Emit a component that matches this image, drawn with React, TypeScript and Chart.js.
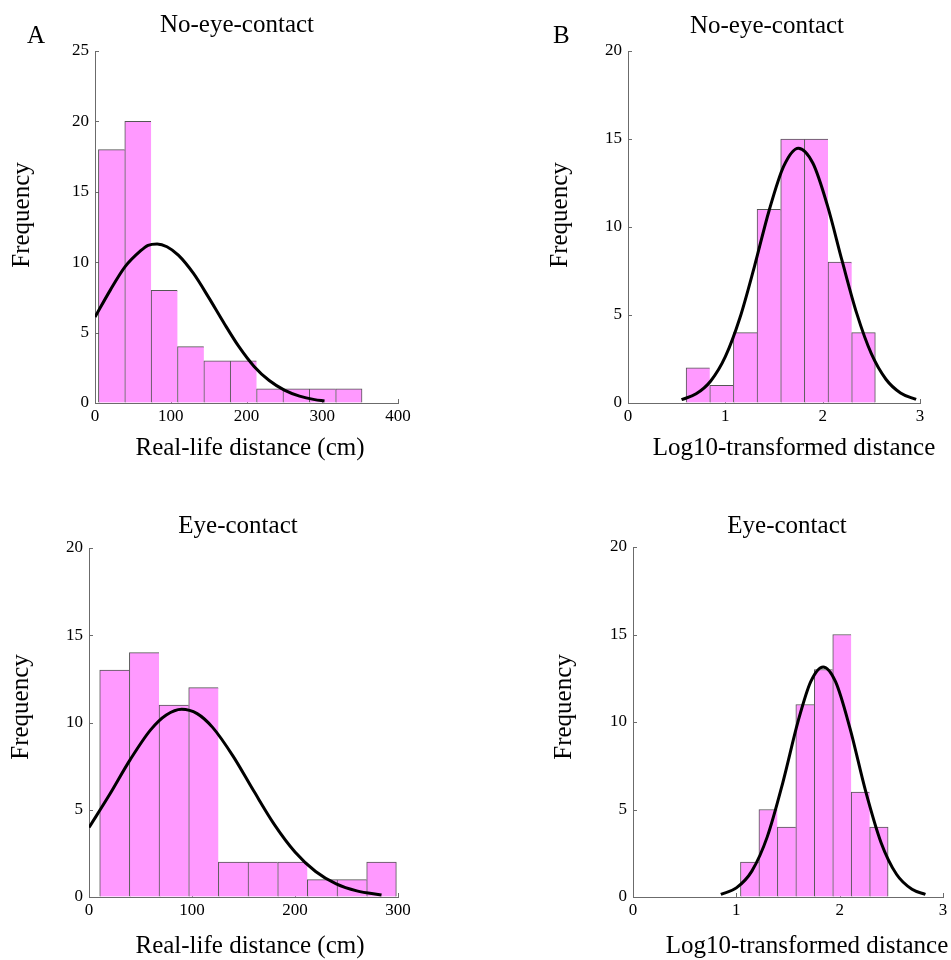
import React, { useEffect, useRef } from "react";
import { Chart, registerables } from "chart.js";
Chart.register(...registerables);

// ---------------- Data ----------------
// Panel A, No-eye-contact: real-life distance (cm)
const aNoBinCenters = [21.9, 56.7, 91.5, 126.3, 161.1, 195.9, 230.7, 265.5, 300.3, 335.1];
const aNoCounts = [18, 20, 8, 4, 3, 3, 1, 1, 1, 1];
const aNoFitX = [0, 20, 40, 60, 70, 82, 95, 110, 130, 150, 170, 190, 210, 230, 250, 270, 290, 303];
const aNoFitY = [6.1, 8.0, 9.7, 10.8, 11.2, 11.3, 11.1, 10.5, 9.2, 7.5, 5.7, 4.0, 2.6, 1.6, 0.92, 0.49, 0.24, 0.15];

// Panel B, No-eye-contact: log10-transformed distance
const bNoBinCenters = [0.7185, 0.9615, 1.2045, 1.4475, 1.6905, 1.9335, 2.1765, 2.4195];
const bNoCounts = [2, 1, 4, 11, 15, 15, 8, 4];
const bNoFitX = [0.55, 0.7, 0.85, 1.0, 1.15, 1.3, 1.45, 1.6, 1.75, 1.9, 2.05, 2.2, 2.35, 2.5, 2.65, 2.8, 2.96];
const bNoFitY = [0.19, 0.52, 1.25, 2.63, 4.84, 7.78, 10.94, 13.46, 14.48, 13.62, 11.2, 8.07, 5.09, 2.8, 1.35, 0.57, 0.2];

// Panel A, Eye-contact: real-life distance (cm)
const aEyeBinCenters = [24.8, 53.6, 82.4, 111.2, 140.0, 168.8, 197.6, 226.4, 255.2, 284.0];
const aEyeCounts = [13, 14, 11, 12, 2, 2, 2, 1, 1, 2];
const aEyeFitX = [0, 20, 40, 60, 75, 90, 105, 120, 140, 160, 180, 200, 220, 240, 260, 284];
const aEyeFitY = [3.98, 5.87, 7.87, 9.59, 10.43, 10.76, 10.51, 9.72, 8.06, 6.07, 4.15, 2.58, 1.46, 0.75, 0.35, 0.12];

// Panel B, Eye-contact: log10-transformed distance
const bEyeBinCenters = [1.1293, 1.3079, 1.4865, 1.6651, 1.8437, 2.0223, 2.2009, 2.3795];
const bEyeCounts = [2, 5, 4, 11, 13, 15, 6, 4];
const bEyeFitX = [0.85, 1.0, 1.15, 1.3, 1.45, 1.6, 1.72, 1.84, 1.96, 2.1, 2.25, 2.4, 2.55, 2.7, 2.83];
const bEyeFitY = [0.15, 0.52, 1.48, 3.45, 6.54, 10.09, 12.31, 13.15, 12.31, 9.64, 6.08, 3.12, 1.3, 0.44, 0.15];

// Texts
const titleNo = "No-eye-contact";
const titleEye = "Eye-contact";
const xLabelReal = "Real-life distance (cm)";
const xLabelLog = "Log10-transformed distance";
const yLabel = "Frequency";

// ---------------- Styles ----------------
const FONT = '"Liberation Serif", "Times New Roman", serif';
const BAR_FILL = "#ff99ff";
const BAR_EDGE = "#555555";
const AXIS_COLOR = "#6b6b6b";
const LABEL_SIZE = 25;

type TextItem = { text: string; x: number; y: number; align?: CanvasTextAlign; rotate?: boolean; size?: number };

type Panel = {
  x: number; y: number; w: number; h: number;
  area: { l: number; r: number; t: number; b: number };
  xMax: number; xStep: number; yMax: number;
  centers: number[]; counts: number[]; fitX: number[]; fitY: number[];
  texts: TextItem[];
};

const PANELS: Panel[] = [
  {
    x: 0, y: 0, w: 470, h: 475,
    area: { l: 95, r: 398, t: 51, b: 403 },
    xMax: 400, xStep: 100, yMax: 25,
    centers: aNoBinCenters, counts: aNoCounts, fitX: aNoFitX, fitY: aNoFitY,
    texts: [
      { text: "A", x: 27, y: 43, align: "left" },
      { text: titleNo, x: 237, y: 32 },
      { text: xLabelReal, x: 250, y: 455 },
      { text: yLabel, x: 29, y: 215, rotate: true },
    ],
  },
  {
    x: 475, y: 0, w: 476, h: 475,
    area: { l: 628, r: 920, t: 51, b: 403 },
    xMax: 3, xStep: 1, yMax: 20,
    centers: bNoBinCenters, counts: bNoCounts, fitX: bNoFitX, fitY: bNoFitY,
    texts: [
      { text: "B", x: 553, y: 43, align: "left" },
      { text: titleNo, x: 767, y: 33 },
      { text: xLabelLog, x: 794, y: 455 },
      { text: yLabel, x: 567, y: 215, rotate: true },
    ],
  },
  {
    x: 0, y: 475, w: 470, h: 485,
    area: { l: 89, r: 398, t: 548, b: 897 },
    xMax: 300, xStep: 100, yMax: 20,
    centers: aEyeBinCenters, counts: aEyeCounts, fitX: aEyeFitX, fitY: aEyeFitY,
    texts: [
      { text: titleEye, x: 238, y: 533 },
      { text: xLabelReal, x: 250, y: 953 },
      { text: yLabel, x: 28, y: 707, rotate: true },
    ],
  },
  {
    x: 475, y: 475, w: 476, h: 485,
    area: { l: 633, r: 943, t: 547, b: 897 },
    xMax: 3, xStep: 1, yMax: 20,
    centers: bEyeBinCenters, counts: bEyeCounts, fitX: bEyeFitX, fitY: bEyeFitY,
    texts: [
      { text: titleEye, x: 787, y: 533 },
      { text: xLabelLog, x: 807, y: 953 },
      { text: yLabel, x: 571, y: 707, rotate: true },
    ],
  },
];

function makeTextPlugin(items: TextItem[], offX: number, offY: number) {
  return {
    id: "panelText",
    afterDraw(chart: any) {
      const ctx = chart.ctx as CanvasRenderingContext2D;
      for (const it of items) {
        ctx.save();
        ctx.font = `${it.size || LABEL_SIZE}px ${FONT}`;
        ctx.fillStyle = "#000";
        ctx.textAlign = it.align || "center";
        ctx.textBaseline = "alphabetic";
        ctx.translate(it.x - offX, it.y - offY);
        if (it.rotate) ctx.rotate(-Math.PI / 2);
        ctx.fillText(it.text, 0, 0);
        ctx.restore();
      }
    },
  };
}

const inwardTicks = {
  id: "inwardTicks",
  beforeDatasetsDraw(chart: any) {
    const { ctx, chartArea, scales } = chart;
    ctx.save();
    ctx.strokeStyle = AXIS_COLOR;
    ctx.lineWidth = 1;
    ctx.beginPath();
    for (const t of scales.x.ticks) {
      const px = Math.round(scales.x.getPixelForValue(t.value)) + 0.5;
      ctx.moveTo(px, chartArea.bottom);
      ctx.lineTo(px, chartArea.bottom - 4);
    }
    for (const t of scales.y.ticks) {
      const py = Math.round(scales.y.getPixelForValue(t.value)) + 0.5;
      ctx.moveTo(chartArea.left, py);
      ctx.lineTo(chartArea.left + 4, py);
    }
    ctx.stroke();
    ctx.restore();
  },
};

function HistPanel({ p }: { p: Panel }) {
  const ref = useRef<HTMLCanvasElement>(null);
  useEffect(() => {
    const canvas = ref.current;
    if (!canvas) return;
    const n = p.counts.length;
    const yW = p.area.l - p.x;
    const xH = p.y + p.h - p.area.b;
    const chart = new Chart(canvas, {
      type: "bar",
      data: {
        datasets: [
          {
            type: "line",
            data: p.fitX.map((x, i) => ({ x, y: p.fitY[i] })),
            borderColor: "#000",
            borderWidth: 3,
            pointRadius: 0,
            fill: false,
            cubicInterpolationMode: "monotone",
            order: 1,
          } as any,
          {
            type: "bar",
            data: p.centers.map((c, i) => ({ x: c, y: p.counts[i] })),
            backgroundColor: BAR_FILL,
            borderColor: BAR_EDGE,
            borderWidth: (ctx: any) => ({ top: 1, left: 1, bottom: 0, right: ctx.dataIndex === n - 1 ? 1 : 0 }),
            borderSkipped: false,
            barPercentage: 1,
            categoryPercentage: 1,
            grouped: false,
            order: 2,
          } as any,
        ],
      },
      options: {
        responsive: false,
        maintainAspectRatio: false,
        animation: false,
        devicePixelRatio: 1,
        events: [],
        layout: { padding: { left: 0, bottom: 0, top: p.area.t - p.y, right: p.x + p.w - p.area.r } },
        plugins: { legend: { display: false }, tooltip: { enabled: false }, title: { display: false } },
        scales: {
          x: {
            type: "linear",
            min: 0,
            max: p.xMax,
            offset: false,
            grid: { display: true, drawOnChartArea: false, drawTicks: false },
            border: { display: true, color: AXIS_COLOR, width: 1 },
            ticks: {
              stepSize: p.xStep,
              autoSkip: false,
              maxRotation: 0,
              padding: 3,
              color: "#000",
              font: { family: FONT, size: 17 },
            },
            afterFit: (s: any) => { s.height = xH; },
          },
          y: {
            type: "linear",
            min: 0,
            max: p.yMax,
            grid: { display: true, drawOnChartArea: false, drawTicks: false },
            border: { display: true, color: AXIS_COLOR, width: 1 },
            ticks: {
              stepSize: 5,
              padding: 6,
              color: "#000",
              font: { family: FONT, size: 17 },
            },
            afterFit: (s: any) => { s.width = yW; },
          },
        },
      } as any,
      plugins: [inwardTicks, makeTextPlugin(p.texts, p.x, p.y)],
    });
    return () => chart.destroy();
  }, [p]);
  return (
    <canvas
      ref={ref}
      width={p.w}
      height={p.h}
      style={{ position: "absolute", left: p.x, top: p.y, width: p.w, height: p.h, display: "block" }}
    />
  );
}

export default function App() {
  return (
    <div style={{ position: "absolute", left: 0, top: 0, width: 951, height: 960, background: "#fff", overflow: "hidden" }}>
      {PANELS.map((p, i) => (
        <HistPanel key={i} p={p} />
      ))}
    </div>
  );
}
